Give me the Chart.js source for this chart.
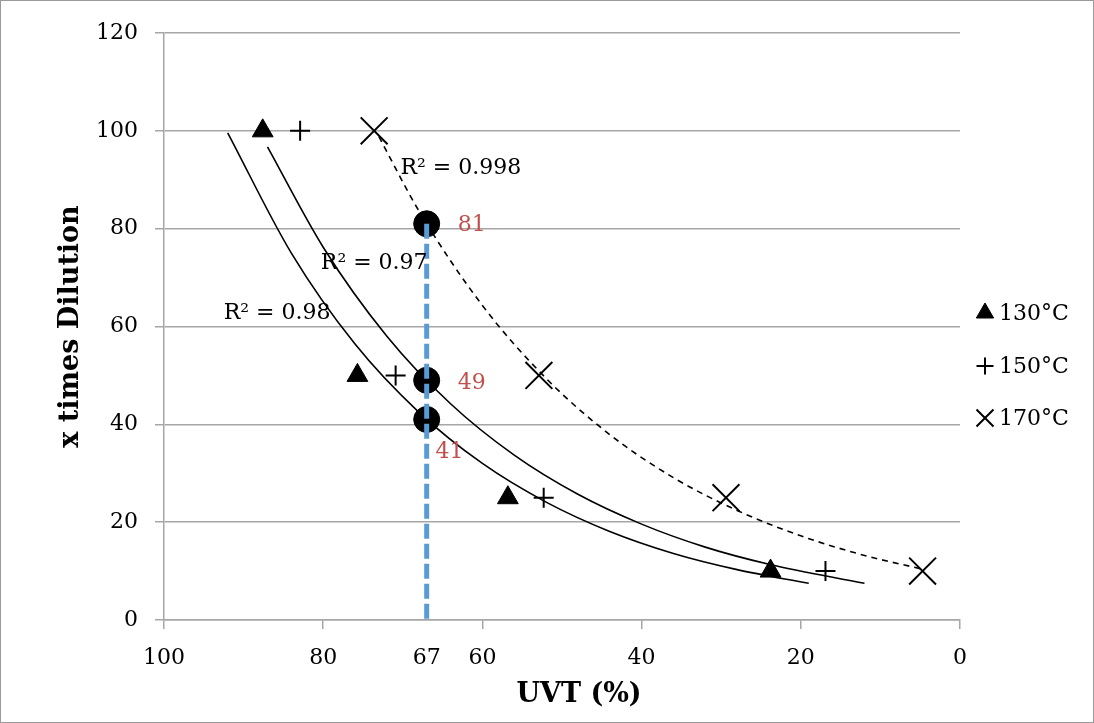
<!DOCTYPE html>
<html>
<head>
<meta charset="utf-8">
<script src="https://cdn.jsdelivr.net/npm/chart.js@4"></script>
<style>
  html, body { margin: 0; padding: 0; background: #fff; }
  #wrap { width: 1094px; height: 723px; }
</style>
</head>
<body>
<div id="wrap"><canvas id="uvtChart" width="1094" height="723"></canvas></div>
<script>
// measured points, x = UVT (%), y = x times dilution
const seriesLabels = ['130°C', '150°C', '170°C'];
const dilution = [100, 50, 25, 10];
const uvt130 = [87.6, 75.7, 56.8, 23.8];
const uvt150 = [82.9, 70.9, 52.3, 16.9];
const uvt170 = [73.6, 52.9, 29.4, 4.7];

// trendlines
const fit130X = [92, 84, 76, 68, 60, 52, 44, 36, 28, 19];
const fit130Y = [99.6, 75, 56.4, 42.5, 32, 24.1, 18.1, 13.6, 10.3, 7.5];
const fit150X = [87, 80, 72, 64, 56, 48, 40, 32, 24, 12];
const fit150Y = [96.7, 76.2, 58, 44.2, 33.7, 25.7, 19.6, 14.9, 11.4, 7.5];
const fit170X = [73, 68, 60, 52, 44, 36, 28, 20, 12, 5];
const fit170Y = [98.8, 83.7, 64.3, 49.4, 37.9, 29.1, 22.4, 17.2, 13.2, 10.5];
const r2Labels = ['R² = 0.98', 'R² = 0.97', 'R² = 0.998'];

// target UVT and the dilution read at it
const targetUvt = 67;
const intercepts = [41, 49, 81];

const xTicks = [100, 80, 67, 60, 40, 20, 0];
const xTitle = 'UVT (%)';
const yTitle = 'x times Dilution';

const GRID = '#a6a6a6';
const FONT = 'DejaVu Serif';

function pts(xs, ys) {
    return xs.map((x, i) => ({ x: x, y: ys[i] }));
}

const markerStyles = [
    { pointStyle: 'triangle', radius: 12, legendRadius: 10, borderWidth: 1 },
    { pointStyle: 'cross', radius: 10, legendRadius: 8.5, borderWidth: 2 },
    { pointStyle: 'crossRot', radius: 19, legendRadius: 12, borderWidth: 2 }
];

function markerSet(i, xs) {
    const s = markerStyles[i];
    return {
        label: seriesLabels[i],
        data: pts(xs, dilution),
        showLine: false,
        pointStyle: s.pointStyle,
        pointRadius: s.radius,
        pointHoverRadius: s.radius,
        pointBorderWidth: s.borderWidth,
        pointBackgroundColor: '#000',
        pointBorderColor: '#000'
    };
}

function fitSet(xs, ys, dashed) {
    return {
        label: 'fit',
        data: pts(xs, ys),
        showLine: true,
        pointRadius: 0,
        borderColor: '#000',
        borderWidth: 1.6,
        borderDash: dashed ? [6, 5] : [],
        cubicInterpolationMode: 'monotone'
    };
}

// label anchors in data units (left edge, vertical middle)
const r2Anchors = [[92.5, 62.7], [80.3, 73], [70.3, 92.4]];
const valueAnchors = [[65.9, 34.2], [63.1, 48.4], [63.1, 80.7]];

const frame = {
    id: 'frame',
    beforeDraw(chart) {
        const ctx = chart.ctx;
        ctx.save();
        ctx.fillStyle = '#fff';
        ctx.fillRect(0, 0, chart.width, chart.height);
        ctx.strokeStyle = '#9a9a9a';
        ctx.lineWidth = 1;
        ctx.strokeRect(0.5, 0.5, chart.width - 1, chart.height - 1);
        ctx.restore();
    },
    afterDraw(chart) {
        // x axis title sits a little right of the plot centre in the original
        const ctx = chart.ctx;
        const area = chart.chartArea;
        ctx.save();
        ctx.font = 'bold 27px "' + FONT + '"';
        ctx.fillStyle = '#000';
        ctx.textAlign = 'center';
        ctx.textBaseline = 'middle';
        ctx.fillText(xTitle, (area.left + area.right) / 2 + 17, area.bottom + 75);
        ctx.restore();
    }
};

const notes = {
    id: 'notes',
    afterDatasetsDraw(chart) {
        const ctx = chart.ctx;
        const xs = chart.scales.x, ys = chart.scales.y;
        ctx.save();
        ctx.font = '22px "' + FONT + '"';
        ctx.textAlign = 'left';
        ctx.textBaseline = 'middle';
        ctx.fillStyle = '#000';
        r2Labels.forEach((t, i) => {
            ctx.fillText(t, xs.getPixelForValue(r2Anchors[i][0]), ys.getPixelForValue(r2Anchors[i][1]));
        });
        ctx.fillStyle = '#c0504d';
        intercepts.forEach((v, i) => {
            ctx.fillText(String(v), xs.getPixelForValue(valueAnchors[i][0]), ys.getPixelForValue(valueAnchors[i][1]));
        });
        ctx.restore();
    }
};

const sideLegend = {
    id: 'sideLegend',
    afterDraw(chart) {
        const ctx = chart.ctx;
        const x0 = chart.chartArea.right + 25;
        const rows = [313, 366, 418];
        ctx.save();
        ctx.font = '22px "' + FONT + '"';
        ctx.textAlign = 'left';
        ctx.textBaseline = 'middle';
        seriesLabels.forEach((t, i) => {
            const s = markerStyles[i];
            ctx.fillStyle = '#000';
            ctx.strokeStyle = '#000';
            ctx.lineWidth = s.borderWidth;
            Chart.helpers.drawPoint(ctx, { pointStyle: s.pointStyle, radius: s.legendRadius, rotation: 0, borderWidth: s.borderWidth }, x0, rows[i]);
            ctx.fillStyle = '#000';
            ctx.fillText(t, x0 + 14, rows[i] + 1);
        });
        ctx.restore();
    }
};

new Chart(document.getElementById('uvtChart'), {
    type: 'scatter',
    data: {
        datasets: [
            {
                label: 'target',
                data: [{ x: targetUvt, y: Math.max(...intercepts) }, { x: targetUvt, y: 0 }],
                showLine: true,
                pointRadius: 0,
                borderColor: '#5b9bd5',
                borderWidth: 5,
                borderDash: [15, 5]
            },
            {
                label: 'read',
                data: intercepts.map(v => ({ x: targetUvt, y: v })),
                showLine: false,
                pointStyle: 'circle',
                pointRadius: 13,
                pointHoverRadius: 13,
                pointBackgroundColor: '#000',
                pointBorderColor: '#000'
            },
            markerSet(0, uvt130),
            markerSet(1, uvt150),
            markerSet(2, uvt170),
            fitSet(fit130X, fit130Y, false),
            fitSet(fit150X, fit150Y, false),
            fitSet(fit170X, fit170Y, true)
        ]
    },
    options: {
        responsive: false,
        animation: false,
        events: [],
        layout: { padding: { left: 0, right: 134, top: 33, bottom: 0 } },
        plugins: {
            legend: { display: false },
            tooltip: { enabled: false }
        },
        scales: {
            x: {
                type: 'linear',
                reverse: true,
                min: 0,
                max: 100,
                afterBuildTicks: scale => {
                    scale.ticks = xTicks.map(v => ({ value: v }));
                },
                afterFit: scale => { scale.height = 103; },
                grid: {
                    drawOnChartArea: false,
                    tickLength: 9,
                    lineWidth: 1.5,
                    color: GRID,
                    tickColor: ctx => (ctx.tick && ctx.tick.value === targetUvt) ? 'rgba(0,0,0,0)' : GRID
                },
                border: { color: GRID, width: 1.5 },
                ticks: {
                    autoSkip: false,
                    maxRotation: 0,
                    padding: 16,
                    color: '#000',
                    font: { family: FONT, size: 22 },
                    callback: v => String(v)
                }
            },
            y: {
                min: 0,
                max: 120,
                afterFit: scale => { scale.width = 164; },
                ticks: {
                    stepSize: 20,
                    padding: 17,
                    color: '#000',
                    font: { family: FONT, size: 22 }
                },
                grid: { color: GRID, lineWidth: 1.5, tickLength: 9 },
                border: { color: GRID, width: 1.5 },
                title: {
                    display: true,
                    text: yTitle,
                    color: '#000',
                    font: { family: FONT, size: 27, weight: 'bold' },
                    padding: { top: 55, bottom: 0 }
                }
            }
        }
    },
    plugins: [frame, notes, sideLegend]
});
</script>
</body>
</html>
